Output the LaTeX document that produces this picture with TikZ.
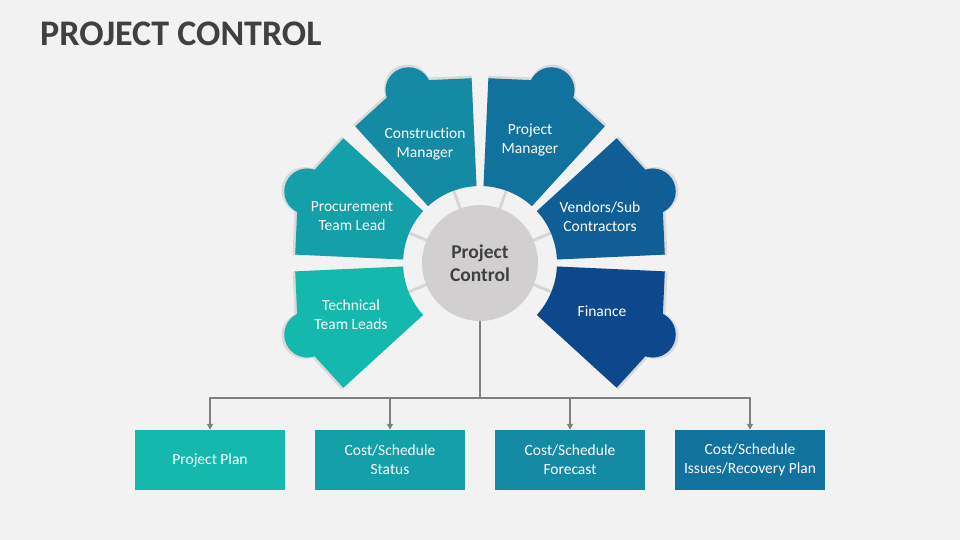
\documentclass[tikz,border=0pt]{standalone}
\usepackage{fontspec}
\setmainfont{Carlito}[Ligatures=NoCommon]
\usetikzlibrary{calc,arrows.meta}
\definecolor{bg}{HTML}{F2F2F2}
\definecolor{titlegray}{HTML}{404040}
\definecolor{circgray}{HTML}{D1CFCF}
\definecolor{tickgray}{HTML}{D6D6D6}
\definecolor{conngray}{HTML}{7F7F7F}
\definecolor{shadowgray}{HTML}{D9D9D9}
\definecolor{cA}{HTML}{15B8AD}
\definecolor{cB}{HTML}{13A0A8}
\definecolor{cC}{HTML}{148AA4}
\definecolor{cD}{HTML}{11729D}
\definecolor{cE}{HTML}{105E96}
\definecolor{cF}{HTML}{0E488C}
% #1 start angle, #2 end angle, #3 fill, #4 scale of outer radii
\newcommand{\puzzlepiece}[4]{%
  \pgfmathsetmacro{\angS}{#1+2.6}%
  \pgfmathsetmacro{\angE}{#2-2.6}%
  \pgfmathsetmacro{\angM}{(#1+#2)/2}%
  \pgfmathsetmacro{\radO}{185*#4}%
  \pgfmathsetmacro{\radC}{\radO/cos((\angE-\angS)/2)}%
  \pgfmathsetmacro{\radK}{187*#4}%
  \pgfmathsetmacro{\radN}{23*#4}%
  \fill[#3] ($(C)+(\angS:77)$) -- ($(C)+(\angS:\radO)$) -- ($(C)+(\angM:\radC)$)
    -- ($(C)+(\angE:\radO)$) -- ($(C)+(\angE:77)$)
    arc[start angle=\angE, end angle=\angS, radius=77] -- cycle;
  \fill[#3] ($(C)+(\angM:\radK)$) circle[radius=\radN];
}
\tikzset{
  ptext/.style={text=white, align=center, font=\fontsize{15.5}{19}\selectfont, inner sep=0pt},
  bbox/.style={minimum width=150pt, minimum height=60pt, inner sep=2pt, text=white, align=center, font=\fontsize{15.5}{19}\selectfont},
  conn/.style={draw=conngray, line width=2pt},
  tickline/.style={draw=tickgray, line width=3pt}
}
\begin{document}
\begin{tikzpicture}[x=1pt,y=1pt]
\useasboundingbox (0,0) rectangle (960,540);
\fill[bg] (0,0) rectangle (960,540);
\node[anchor=base west, text=titlegray, font=\fontsize{36}{40}\selectfont\bfseries, inner sep=0pt] (title) at (40,494) {PROJECT CONTROL};
\coordinate (C) at (480,277);
% ticks
\foreach \a in {23,70,110,157,202,338} \draw[tickline] ($(C)+(\a:55)$) -- ($(C)+(\a:80)$);
% soft shadows
\foreach \s/\e in {-45/0,0/45,45/90,90/135,135/180,180/225} {\puzzlepiece{\s}{\e}{shadowgray}{1.014}}
% pieces
\puzzlepiece{-45}{0}{cF}{1}
\puzzlepiece{0}{45}{cE}{1}
\puzzlepiece{45}{90}{cD}{1}
\puzzlepiece{90}{135}{cC}{1}
\puzzlepiece{135}{180}{cB}{1}
\puzzlepiece{180}{225}{cA}{1}
% labels
\node[ptext] (tcm) at (425,396) {Construction\\Manager};
\node[ptext] (tpm) at (530,400) {Project\\Manager};
\node[ptext] (tpr) at (352,324) {Procurement\\Team Lead};
\node[ptext] (tve) at (600,323) {Vendors/Sub\\Contractors};
\node[ptext] (tte) at (351,225) {Technical\\Team Leads};
\node[ptext] (tfi) at (602,229) {Finance};
% centre
\node[circle, fill=circgray, minimum size=116pt, inner sep=0pt, align=center, text=titlegray,
      font=\fontsize{19.5}{23}\selectfont\bfseries] (pc) at (C) {Project\\Control};
% bottom boxes
\node[bbox, fill=cA] (b1) at (210,80) {Project Plan};
\node[bbox, fill=cB] (b2) at (390,80) {Cost/Schedule\\Status};
\node[bbox, fill=cC] (b3) at (570,80) {Cost/Schedule\\Forecast};
\node[bbox, fill=cD] (b4) at (750,80) {Cost/Schedule\\Issues/Recovery Plan};
% connectors
\coordinate (junc) at (480,142);
\draw[conn] (pc.south) -- (junc);
\foreach \b in {b1,b2,b3,b4}
  \draw[conn, -{Triangle[length=6pt,width=6pt]}] (junc) -| (\b.north);
\end{tikzpicture}
\end{document}
